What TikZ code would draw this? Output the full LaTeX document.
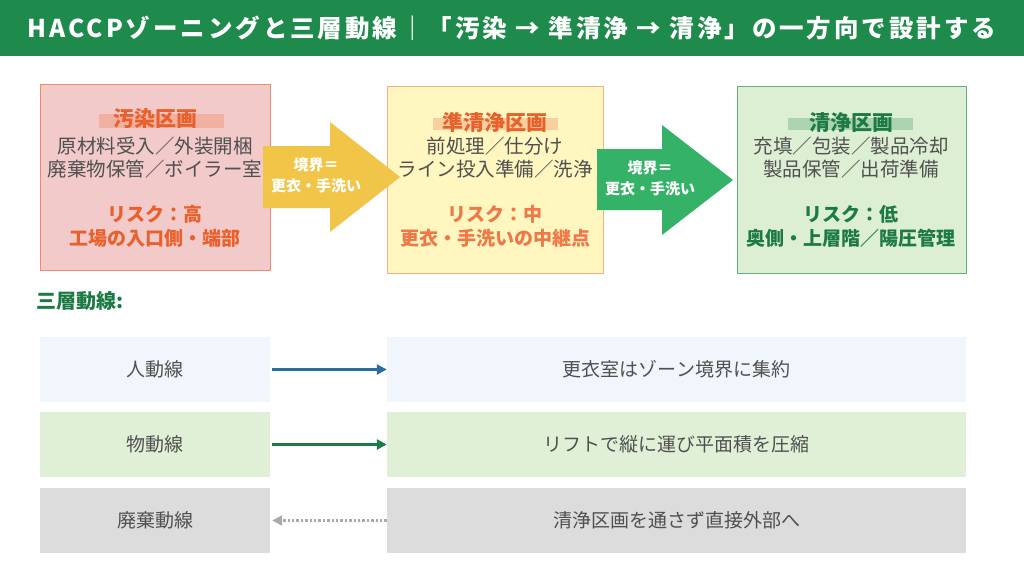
\documentclass[tikz,border=0pt]{standalone}
\usepackage{fontspec}
\setmainfont{Noto Sans CJK JP}
\usetikzlibrary{arrows.meta}
\definecolor{hdr}{HTML}{1E8A4C}
\definecolor{txt}{HTML}{505050}
\definecolor{org}{HTML}{E8602C}
\definecolor{org2}{HTML}{F07848}
\definecolor{dgr}{HTML}{1E7A45}
\definecolor{f1}{HTML}{F2CACA}\definecolor{d1}{HTML}{F08A6A}
\definecolor{f2}{HTML}{FFF6C0}\definecolor{d2}{HTML}{F5B080}
\definecolor{f3}{HTML}{DDEFD3}\definecolor{d3}{HTML}{6BAE7E}
\definecolor{h1}{HTML}{F2B0A0}\definecolor{h2}{HTML}{F8D0A0}\definecolor{h3}{HTML}{ABD3AE}
\definecolor{ay}{HTML}{F0C548}\definecolor{ag}{HTML}{34B267}
\definecolor{rb}{HTML}{F0F6FB}\definecolor{rg}{HTML}{E0F0D6}\definecolor{rx}{HTML}{DCDCDC}
\definecolor{cb}{HTML}{2A6E9E}\definecolor{cx}{HTML}{AAAAAA}
\begin{document}
\begin{tikzpicture}[x=1pt,y=-1pt,
 zone/.style={draw,line width=1pt,inner sep=0pt},
 body/.style={font=\fontsize{19.5}{23}\selectfont,text=txt,align=center},
 ttl/.style={font=\fontsize{19}{24}\selectfont\bfseries,align=center},
 head/.style={font=\fontsize{21}{21}\selectfont\bfseries,align=center},
 rowbox/.style={inner sep=0pt,font=\fontsize{19}{19}\selectfont,text=txt},
 lbl/.style={font=\fontsize{15}{21}\selectfont\bfseries,text=white,align=center}]
\useasboundingbox (0,0) rectangle (1024,576);
\fill[white] (0,0) rectangle (1024,576);
\fill[hdr] (0,0) rectangle (1024,56);
\node (title) at (512,28) {\fontsize{24.5}{24}\selectfont\bfseries\color{white}\addfontfeature{LetterSpace=12}HACCPゾーニングと三層動線｜「汚染 → 準清浄 → 清浄」の一方向で設計する};
% zones
\node[zone,fill=f1,draw=d1,minimum width=230,minimum height=186] (z1) at (155,177) {};
\node[zone,fill=f2,draw=d2,minimum width=216,minimum height=187] (z2) at (495,179.5) {};
\node[zone,fill=f3,draw=d3,minimum width=229,minimum height=187] (z3) at (851.5,179.5) {};
\fill[h1] (99,114) rectangle (224,128);
\fill[h2] (433,118) rectangle (558,130);
\fill[h3] (788,118) rectangle (913,130);
\node[head,text=org] (t1) at (155,119) {汚染区画};
\node[head,text=org] (t2) at (495,122) {準清浄区画};
\node[head,text=dgr] (t3) at (851,122) {清浄区画};
\node[body] (b1) at (155,158) {原材料受入／外装開梱\\廃棄物保管／ボイラー室};
\node[body] (b2) at (495,158) {前処理／仕分け\\ライン投入準備／洗浄};
\node[body] (b3) at (851,158) {充填／包装／製品冷却\\製品保管／出荷準備};
\node[ttl,text=org] (r1) at (155,226) {リスク：高\\工場の入口側・端部};
\node[ttl,text=org2] (r2) at (495,226) {リスク：中\\更衣・手洗いの中継点};
\node[ttl,text=dgr] (r3) at (851,226) {リスク：低\\奥側・上層階／陽圧管理};
% big arrows
\fill[ay] (263,146) -- (330,146) -- (330,122) -- (400,177) -- (330,232) -- (330,208) -- (263,208) -- cycle;
\fill[ag] (597,149) -- (662,149) -- (662,125) -- (733,180) -- (662,235) -- (662,210) -- (597,210) -- cycle;
\node[lbl] (a1) at (316,175) {境界＝\\更衣・手洗い};
\node[lbl] (a2) at (650,178) {境界＝\\更衣・手洗い};
% section
\node[anchor=west,font=\fontsize{20}{20}\selectfont\bfseries,text=dgr] (sec) at (33,301) {三層動線:};
\node[rowbox,fill=rb,minimum width=230,minimum height=65] (l1) at (155,369.5) {人動線};
\node[rowbox,fill=rb,minimum width=579,minimum height=65] (m1) at (676.5,369.5) {更衣室はゾーン境界に集約};
\node[rowbox,fill=rg,minimum width=230,minimum height=65] (l2) at (155,444.5) {物動線};
\node[rowbox,fill=rg,minimum width=579,minimum height=65] (m2) at (676.5,444.5) {リフトで縦に運び平面積を圧縮};
\node[rowbox,fill=rx,minimum width=230,minimum height=65] (l3) at (155,520.5) {廃棄動線};
\node[rowbox,fill=rx,minimum width=579,minimum height=65] (m3) at (676.5,520.5) {清浄区画を通さず直接外部へ};
\draw[cb,line width=2.4pt,-{Triangle[length=10pt,width=10pt]}] ([xshift=2]l1.east) -- (m1.west);
\draw[dgr,line width=2.4pt,-{Triangle[length=10pt,width=10pt]}] ([xshift=2]l2.east) -- (m2.west);
\draw[cx,line width=2.4pt,dotted,-{Triangle[length=10pt,width=10pt]}] (m3.west) -- ([xshift=2]l3.east);
\end{tikzpicture}
\end{document}
